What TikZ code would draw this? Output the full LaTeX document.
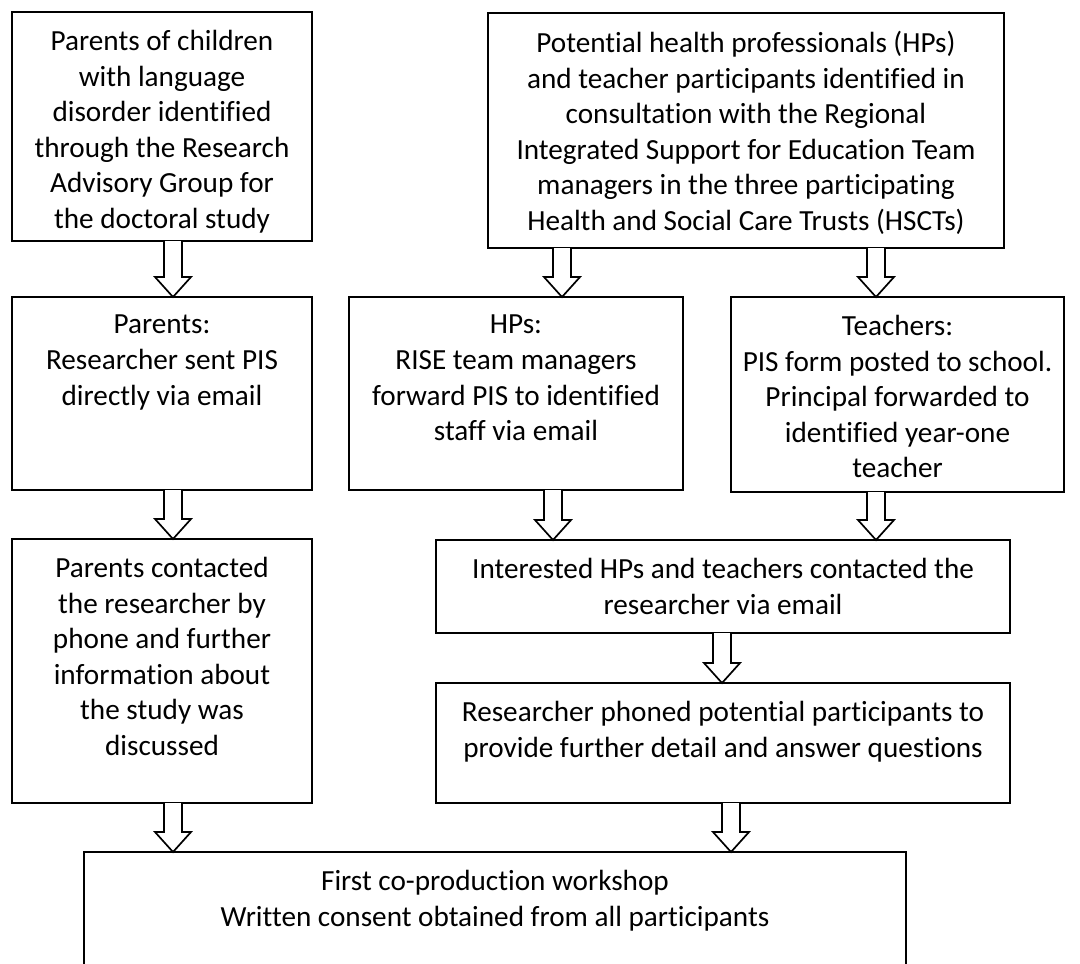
\documentclass[tikz,border=0pt]{standalone}
\usepackage{fontspec}
\setmainfont[Ligatures=NoCommon]{Carlito}
\usetikzlibrary{calc}

% hollow block arrow from #1 (top of shaft) down to #2 (tip)
\newcommand\blockdown[2]{%
  \draw[blockarr] ($(#1)+(-9,0)$) -- ($(#2)+(-9,-20)$) -- ($(#2)+(-18,-20)$)
    -- (#2) -- ($(#2)+(18,-20)$) -- ($(#2)+(9,-20)$) -- ($(#1)+(9,0)$);}

\begin{document}
\begin{tikzpicture}[x=1pt,y=-1pt,
  box/.style={draw, line width=1.7pt, rectangle, inner sep=0pt, outer sep=0pt},
  lbl/.style={anchor=north, align=center, inner sep=0pt,
    font=\fontsize{29.2}{35.6}\selectfont,
    execute at begin node={\rule{0pt}{20pt}}},
  blockarr/.style={draw, fill=white, line width=1.7pt, line join=miter}]
\useasboundingbox (0,0) rectangle (1080,964);
\clip (0,0) rectangle (1080,964);

% boxes
\node[box, minimum width=300, minimum height=229] (A) at (162,126.5) {};
\node[box, minimum width=516, minimum height=235] (B) at (746,130.5) {};
\node[box, minimum width=300, minimum height=193] (C) at (162,393.5) {};
\node[box, minimum width=334, minimum height=193] (D) at (516,393.5) {};
\node[box, minimum width=333, minimum height=195] (E) at (897.5,394.5) {};
\node[box, minimum width=300, minimum height=264] (F) at (162,671) {};
\node[box, minimum width=574, minimum height=93]  (G) at (723,586.5) {};
\node[box, minimum width=574, minimum height=120] (H) at (723,743) {};
\node[box, minimum width=822, minimum height=148] (I) at (495,926) {};

% texts, first baseline 38 below each box top
\node[lbl] (tA) at ($(A.north)+(0,18)$) {Parents of children\\with language\\disorder identified\\through the Research\\Advisory Group for\\the doctoral study};
\node[lbl] (tB) at ($(B.north)+(0,18)$) {Potential health professionals (HPs)\\and teacher participants identified in\\consultation with the Regional\\Integrated Support for Education Team\\managers in the three participating\\Health and Social Care Trusts (HSCTs)};
\node[lbl] (tC) at ($(C.north)+(0,18)$) {Parents:\\Researcher sent PIS\\directly via email};
\node[lbl] (tD) at ($(D.north)+(0,18)$) {HPs:\\RISE team managers\\forward PIS to identified\\staff via email};
\node[lbl] (tE) at ($(E.north)+(0,18)$) {Teachers:\\PIS form posted to school.\\Principal forwarded to\\identified year-one\\teacher};
\node[lbl] (tF) at ($(F.north)+(0,18)$) {Parents contacted\\the researcher by\\phone and further\\information about\\the study was\\discussed};
\node[lbl] (tG) at ($(G.north)+(0,18)$) {Interested HPs and teachers contacted the\\researcher via email};
\node[lbl] (tH) at ($(H.north)+(0,18)$) {Researcher phoned potential participants to\\provide further detail and answer questions};
\node[lbl] (tI) at ($(I.north)+(0,18)$) {First co-production workshop\\Written consent obtained from all participants};

% x positions of the arrows
\coordinate (xa) at (173,0);
\coordinate (xb) at (562,0);
\coordinate (xc) at (876,0);
\coordinate (xd) at (553,0);
\coordinate (xg) at (722,0);
\coordinate (xh) at (731,0);

% connectors
\blockdown{A.south -| xa}{C.north -| xa}
\blockdown{B.south -| xb}{D.north -| xb}
\blockdown{B.south -| xc}{E.north -| xc}
\blockdown{C.south -| xa}{F.north -| xa}
\blockdown{D.south -| xd}{G.north -| xd}
\blockdown{E.south -| xc}{G.north -| xc}
\blockdown{G.south -| xg}{H.north -| xg}
\blockdown{F.south -| xa}{I.north -| xa}
\blockdown{H.south -| xh}{I.north -| xh}
\end{tikzpicture}
\end{document}
